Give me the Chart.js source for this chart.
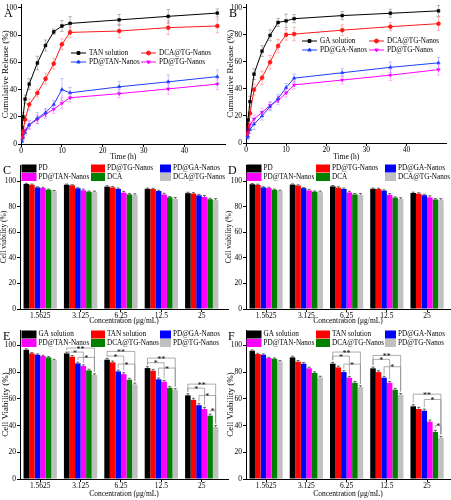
<!DOCTYPE html>
<html>
<head>
<meta charset="utf-8">
<script src="https://cdn.jsdelivr.net/npm/chart.js@4.4.1/dist/chart.umd.min.js"></script>
<style>
  html, body { margin: 0; padding: 0; background: #fff; }
  body { width: 451px; height: 500px; position: relative; overflow: hidden; }
  canvas { position: absolute; }
</style>
</head>
<body>
<canvas id="chartA"></canvas>
<canvas id="chartB"></canvas>
<canvas id="chartC"></canvas>
<canvas id="chartD"></canvas>
<canvas id="chartE"></canvas>
<canvas id="chartF"></canvas>
<script>
// ---- release data (A, B) ----
const releaseHours = [0.25, 0.5, 1, 2, 4, 6, 8, 10, 12, 24, 36, 48];
const releaseTicks = [0, 10, 20, 30, 40];

const tanSolution = [12, 20, 33, 44, 59.5, 72.4, 82.4, 86.7, 88.6, 91.2, 93.8, 96.2];
const tanSolutionErr = [2, 3, 3, 4, 5, 4, 2, 4, 5, 4, 5, 3];
const dcaTgReleaseA = [5, 9, 18, 29, 37.4, 48, 59, 73.3, 82, 83, 85.5, 86.7];
const dcaTgReleaseAErr = [1.5, 2, 3, 4, 3, 4, 4, 4, 4, 5, 5, 5];
const pdTanRelease = [2, 5, 8.5, 14, 19, 23, 29, 40, 37.6, 42, 45.7, 49.5];
const pdTanReleaseErr = [1, 2, 2, 3, 4, 3, 3, 8, 4, 4, 5, 5];
const pdTgReleaseA = [4, 7.5, 10, 14, 18, 22, 25.5, 30, 34, 37, 40.5, 44];
const pdTgReleaseAErr = [1, 2, 2, 3, 3, 3, 3, 4, 3, 3, 4, 4];

const gaSolution = [10, 17, 30.6, 51, 68, 79.7, 89.2, 90.4, 92, 94.3, 96, 97.8];
const gaSolutionErr = [2, 3, 4, 4, 4, 4, 3, 5, 3, 3, 3, 4];
const dcaTgReleaseB = [7, 11, 22, 39.5, 48.3, 59.8, 71.8, 80.1, 80.6, 83.5, 86.1, 88.3];
const dcaTgReleaseBErr = [2, 2, 3, 4, 5, 5, 5, 4, 5, 4, 3, 5];
const pdGaRelease = [4, 5, 10, 14, 20, 27, 33, 41, 48, 52, 56, 59.3];
const pdGaReleaseErr = [1, 2, 3, 4, 3, 3, 3, 3, 3, 3, 4, 4];
const pdTgReleaseB = [8, 9, 13.6, 17.7, 22.7, 27.7, 31.6, 37, 43, 46.6, 50.2, 54.3];
const pdTgReleaseBErr = [2, 2, 2, 3, 3, 3, 3, 3, 3, 3, 4, 4];

// ---- viability data (C-F) ----
const concLabels = ["1.5625", "3.125", "6.25", "12.5", "25"];
const viabTicks = [0, 20, 40, 60, 80, 100];

const viabC_pd = [97.7, 97.1, 95.6, 93.9, 90.5];
const viabC_pdTg = [97.1, 96.6, 95.0, 93.7, 90.2];
const viabC_pdGa = [95.0, 94.3, 93.8, 92.2, 88.8];
const viabC_pdTan = [94.5, 92.7, 90.9, 89.4, 87.5];
const viabC_dca = [93.2, 91.7, 89.6, 87.3, 85.8];
const viabC_dcaTg = [92.0, 91.2, 89.0, 86.1, 85.0];

const viabD_pd = [97.5, 97.2, 95.8, 93.9, 90.6];
const viabD_pdTg = [97.0, 96.5, 94.8, 93.7, 90.1];
const viabD_pdGa = [95.0, 94.4, 93.8, 92.5, 88.9];
const viabD_pdTan = [94.5, 92.6, 91.0, 89.2, 87.2];
const viabD_dca = [93.2, 91.7, 89.5, 87.0, 85.6];
const viabD_dcaTg = [92.2, 91.2, 89.2, 85.9, 85.0];

const viabE_gaSol = [96.8, 94.0, 89.3, 83.0, 62.6];
const viabE_tanSol = [94.0, 91.5, 87.3, 81.0, 59.2];
const viabE_pdGa = [93.0, 86.5, 80.5, 74.6, 55.2];
const viabE_pdTan = [92.0, 84.5, 78.5, 72.8, 52.4];
const viabE_dcaTg = [91.0, 81.3, 74.3, 68.3, 47.4];
const viabE_pdTg = [89.0, 77.8, 70.8, 66.6, 38.9];

const viabF_gaSol = [96.0, 91.0, 86.3, 82.8, 54.4];
const viabF_tanSol = [93.5, 87.8, 83.5, 80.0, 52.4];
const viabF_pdGa = [93.0, 86.3, 80.0, 75.8, 51.1];
const viabF_pdTan = [90.5, 82.8, 75.8, 72.0, 42.9];
const viabF_dcaTg = [90.0, 79.3, 72.0, 66.8, 35.2];
const viabF_pdTg = [88.0, 76.0, 68.8, 63.0, 30.7];

const errSmall = [0.5, 0.5, 0.7, 0.6, 0.7];
const errMid = [0.6, 0.9, 1.0, 1.0, 1.2];

// significance marks: [group, fromBar, toBar, level, label]
const sigE = [
  [1, 0, 3, 95, "*"], [1, 0, 5, 98, "**"], [1, 2, 5, 91, "*"],
  [2, 0, 3, 92, "*"], [2, 0, 5, 95.5, "**"], [2, 2, 5, 86, "*"],
  [3, 0, 3, 87, "*"], [3, 0, 5, 90.5, "**"], [3, 2, 5, 83, "*"],
  [4, 0, 3, 68, "*"], [4, 0, 5, 71, "**"], [4, 2, 5, 62.5, "*"], [4, 4, 5, 51, "*"],
];
const sigF = [
  [2, 0, 3, 92, "*"], [2, 0, 5, 95, "**"], [2, 2, 5, 86, "*"],
  [3, 0, 3, 89.5, "*"], [3, 0, 5, 92.5, "**"], [3, 2, 5, 84, "*"],
  [4, 0, 5, 63.5, "**"], [4, 2, 5, 59.5, "*"], [4, 4, 5, 40, "*"],
];

// ---- look ----
const serif = "'Liberation Serif', 'DejaVu Serif', serif";
const barColors = ["#000000", "#ff0000", "#0000ff", "#ff00ff", "#008000", "#c0c0c0"];

const panels = {
  A: { left: 0, top: 0, w: 230, h: 163, l: 21, t: 1, r: 228, b: 144 },
  B: { left: 225, top: 0, w: 226, h: 163, l: 21, t: 1, r: 225, b: 143 },
  C: { left: 0, top: 163, w: 230, h: 164, l: 20, t: 2, r: 228, b: 146 },
  D: { left: 225, top: 163, w: 226, h: 164, l: 21, t: 2, r: 225, b: 146 },
  E: { left: 0, top: 329, w: 230, h: 171, l: 20, t: 1, r: 228, b: 150 },
  F: { left: 225, top: 329, w: 226, h: 171, l: 21, t: 1, r: 225, b: 150 },
};

const errorBars = {
  id: "errorBars",
  afterDatasetsDraw(chart, args, o) {
    const ctx = chart.ctx;
    const ys = chart.scales.y;
    chart.data.datasets.forEach((ds, i) => {
      if (!ds.errors) return;
      const meta = chart.getDatasetMeta(i);
      ctx.save();
      ctx.strokeStyle = ds.errorColor || "#444";
      ctx.lineWidth = 0.8;
      meta.data.forEach((el, j) => {
        const v = ds.data[j].y;
        const e = ds.errors[j];
        const top = ys.getPixelForValue(v + e);
        const bot = o.upOnly ? ys.getPixelForValue(v) : ys.getPixelForValue(v - e);
        const c = o.cap || 1.8;
        ctx.beginPath();
        ctx.moveTo(el.x, top); ctx.lineTo(el.x, bot);
        ctx.moveTo(el.x - c, top); ctx.lineTo(el.x + c, top);
        if (!o.upOnly) { ctx.moveTo(el.x - c, bot); ctx.lineTo(el.x + c, bot); }
        ctx.stroke();
      });
      ctx.restore();
    });
  },
};

const sigBrackets = {
  id: "sigBrackets",
  afterDatasetsDraw(chart, args, o) {
    if (!o.marks) return;
    const ctx = chart.ctx;
    const ys = chart.scales.y;
    ctx.save();
    ctx.strokeStyle = "#8a8a8a";
    ctx.lineWidth = 0.7;
    ctx.fillStyle = "#000";
    ctx.font = `8px ${serif}`;
    ctx.textAlign = "center";
    ctx.textBaseline = "alphabetic";
    o.marks.forEach(([g, a, b, level, label]) => {
      const dsA = chart.data.datasets[a], dsB = chart.data.datasets[b];
      const xa = chart.getDatasetMeta(a).data[g].x;
      const xb = chart.getDatasetMeta(b).data[g].x;
      const yl = ys.getPixelForValue(level);
      const ya = Math.max(yl, ys.getPixelForValue(dsA.data[g].y + dsA.errors[g] + 1.5));
      const yb = Math.max(yl, ys.getPixelForValue(dsB.data[g].y + dsB.errors[g] + 1.5));
      ctx.beginPath();
      ctx.moveTo(xa, ya); ctx.lineTo(xa, yl); ctx.lineTo(xb, yl); ctx.lineTo(xb, yb);
      ctx.stroke();
      ctx.fillText(label, (xa + xb) / 2, yl + 3.5);
    });
    ctx.restore();
  },
};

const panelDecor = {
  id: "panelDecor",
  afterDraw(chart, args, o) {
    const ctx = chart.ctx;
    ctx.save();
    ctx.fillStyle = "#000";
    ctx.font = `12px ${serif}`;
    ctx.textAlign = "left";
    ctx.textBaseline = "middle";
    ctx.fillText(o.letter, o.letterX, o.letterY);
    ctx.font = `7.2px ${serif}`;
    const ncol = o.cols.length;
    chart.data.datasets.forEach((ds, i) => {
      const cx = o.cols[i % ncol];
      const cy = o.rows[Math.floor(i / ncol)];
      if (o.kind === "line") {
        ctx.strokeStyle = ds.borderColor;
        ctx.lineWidth = 1;
        ctx.beginPath(); ctx.moveTo(cx, cy); ctx.lineTo(cx + 15, cy); ctx.stroke();
        ctx.fillStyle = ds.borderColor;
        Chart.helpers.drawPoint(ctx, {
          pointStyle: ds.pointStyle, rotation: ds.pointRotation || 0, radius: 2, borderWidth: 0.5,
        }, cx + 7.5, cy);
        ctx.fillStyle = "#000";
        ctx.fillText(ds.label, cx + 18, cy);
      } else {
        const sw = o.swatchW[i % ncol];
        ctx.fillStyle = ds.backgroundColor;
        ctx.fillRect(cx, cy - 4, sw, 8);
        ctx.fillStyle = "#000";
        ctx.fillText(ds.label, cx + sw + 2, cy);
      }
    });
    ctx.restore();
  },
};

function placeCanvas(id, p) {
  const c = document.getElementById(id);
  c.width = p.w; c.height = p.h;
  c.style.left = p.left + "px"; c.style.top = p.top + "px";
  c.style.width = p.w + "px"; c.style.height = p.h + "px";
  return c;
}

function axis(p, isY, title, titleSize, min, max, tickValues, labelFn) {
  return {
    type: "linear",
    min, max,
    offset: false,
    border: { display: true, color: "#000", width: 1 },
    grid: { display: true, offset: false, drawOnChartArea: false, drawTicks: true, tickLength: 3, color: "#000", lineWidth: 1 },
    ticks: {
      color: "#000", font: { family: serif, size: 7.5 }, padding: isY ? 1 : 0, maxRotation: 0, autoSkip: false,
      callback: labelFn || ((v) => v),
    },
    title: {
      display: true, text: title, color: "#000",
      font: { family: serif, size: titleSize }, padding: { top: 0, bottom: isY ? 0 : 1 },
    },
    afterBuildTicks: (s) => { s.ticks = tickValues.map((v) => ({ value: v })); },
    afterFit: (s) => {
      if (isY) { s.width = p.l; s.paddingTop = 0; s.paddingBottom = 0; }
      else { s.height = p.h - p.b; s.paddingLeft = 0; s.paddingRight = 0; }
    },
  };
}

function lineSet(label, vals, errs, color, errColor, style, rot) {
  return {
    label,
    data: releaseHours.map((h, i) => ({ x: h, y: vals[i] })),
    errors: errs, errorColor: errColor,
    borderColor: color, backgroundColor: color, borderWidth: 1,
    pointStyle: style, pointRotation: rot || 0, pointRadius: 2, pointBorderWidth: 0.5,
    tension: 0,
  };
}

function barSet(label, vals, errs, k) {
  return {
    label,
    data: vals.map((v, i) => ({ x: i + 1, y: v })),
    errors: errs,
    backgroundColor: barColors[k], borderWidth: 0,
    categoryPercentage: 0.825, barPercentage: 1,
  };
}

function releaseChart(id, key, letter, datasets, legendCols, legendRows) {
  const p = panels[key];
  const c = placeCanvas(id, p);
  return new Chart(c, {
    type: "line",
    data: { datasets },
    options: {
      responsive: false, animation: false, devicePixelRatio: 1,
      layout: { padding: { left: 0, top: p.t, right: p.w - p.r, bottom: 0 } },
      plugins: {
        legend: { display: false }, tooltip: { enabled: false },
        errorBars: { upOnly: false, cap: 1.8 },
        panelDecor: { kind: "line", letter, letterX: 4, letterY: 14, cols: legendCols, rows: legendRows },
      },
      scales: {
        x: axis(p, false, "Time (h)", 7.5, 0, 50, releaseTicks),
        y: axis(p, true, "Cumulative Release (%)", 9, 0, 102.5, viabTicks),
      },
    },
    plugins: [errorBars, panelDecor],
  });
}

function viabChart(id, key, letter, yTitle, yTitleSize, ymax, xmax, datasets, marks) {
  const p = panels[key];
  const c = placeCanvas(id, p);
  return new Chart(c, {
    type: "bar",
    data: { datasets },
    options: {
      responsive: false, animation: false, devicePixelRatio: 1,
      layout: { padding: { left: 0, top: p.t, right: p.w - p.r, bottom: 0 } },
      plugins: {
        legend: { display: false }, tooltip: { enabled: false },
        errorBars: { upOnly: true, cap: 1.5 },
        sigBrackets: { marks },
        panelDecor: {
          kind: "bar", letter, letterX: 3, letterY: 8,
          cols: [21.5, 91, 160], swatchW: [15, 14, 11], rows: [5.5, 14],
        },
      },
      scales: {
        x: axis(p, false, "Concentration (\u03bcg/mL)", 7.5, 0.5, xmax, [1, 2, 3, 4, 5],
          (v) => concLabels[Math.round(v) - 1]),
        y: axis(p, true, yTitle, yTitleSize, 0, ymax, viabTicks),
      },
    },
    plugins: [errorBars, sigBrackets, panelDecor],
  });
}

releaseChart("chartA", "A", "A", [
  lineSet("TAN solution", tanSolution, tanSolutionErr, "#000000", "rgba(0,0,0,0.35)", "rect"),
  lineSet("DCA@TG-Nanos", dcaTgReleaseA, dcaTgReleaseAErr, "#ff1a1a", "rgba(255,0,0,0.35)", "circle"),
  lineSet("PD@TAN-Nanos", pdTanRelease, pdTanReleaseErr, "#1f3fff", "rgba(31,63,255,0.35)", "triangle"),
  lineSet("PD@TG-Nanos", pdTgReleaseA, pdTgReleaseAErr, "#ff00ff", "rgba(255,0,255,0.35)", "triangle", 180),
], [71, 141], [53, 62]);

releaseChart("chartB", "B", "B", [
  lineSet("GA solution", gaSolution, gaSolutionErr, "#000000", "rgba(0,0,0,0.35)", "rect"),
  lineSet("DCA@TG-Nanos", dcaTgReleaseB, dcaTgReleaseBErr, "#ff1a1a", "rgba(255,0,0,0.35)", "circle"),
  lineSet("PD@GA-Nanos", pdGaRelease, pdGaReleaseErr, "#1f3fff", "rgba(31,63,255,0.35)", "triangle"),
  lineSet("PD@TG-Nanos", pdTgReleaseB, pdTgReleaseBErr, "#ff00ff", "rgba(255,0,255,0.35)", "triangle", 180),
], [77, 144], [41, 50]);

viabChart("chartC", "C", "C", "Cell viability (%)", 7.5, 112.5, 5.65, [
  barSet("PD", viabC_pd, errSmall, 0),
  barSet("PD@TG-Nanos", viabC_pdTg, errSmall, 1),
  barSet("PD@GA-Nanos", viabC_pdGa, errSmall, 2),
  barSet("PD@TAN-Nanos", viabC_pdTan, errMid, 3),
  barSet("DCA", viabC_dca, errSmall, 4),
  barSet("DCA@TG-Nanos", viabC_dcaTg, errMid, 5),
], null);

viabChart("chartD", "D", "D", "Cell viability (%)", 7.5, 112.5, 5.57, [
  barSet("PD", viabD_pd, errSmall, 0),
  barSet("PD@TG-Nanos", viabD_pdTg, errSmall, 1),
  barSet("PD@GA-Nanos", viabD_pdGa, errSmall, 2),
  barSet("PD@TAN-Nanos", viabD_pdTan, errMid, 3),
  barSet("DCA", viabD_dca, errSmall, 4),
  barSet("DCA@TG-Nanos", viabD_dcaTg, errMid, 5),
], null);

viabChart("chartE", "E", "E", "Cell Viability (%)", 9, 111.5, 5.65, [
  barSet("GA solution", viabE_gaSol, errMid, 0),
  barSet("TAN solution", viabE_tanSol, errMid, 1),
  barSet("PD@GA-Nanos", viabE_pdGa, errMid, 2),
  barSet("PD@TAN-Nanos", viabE_pdTan, errMid, 3),
  barSet("DCA@TG-Nanos", viabE_dcaTg, errMid, 4),
  barSet("PD@TG-Nanos", viabE_pdTg, errMid, 5),
], sigE);

viabChart("chartF", "F", "F", "Cell Viability (%)", 9, 111.5, 5.57, [
  barSet("GA solution", viabF_gaSol, errMid, 0),
  barSet("TAN solution", viabF_tanSol, errMid, 1),
  barSet("PD@GA-Nanos", viabF_pdGa, errMid, 2),
  barSet("PD@TAN-Nanos", viabF_pdTan, errMid, 3),
  barSet("DCA@TG-Nanos", viabF_dcaTg, errMid, 4),
  barSet("PD@TG-Nanos", viabF_pdTg, errMid, 5),
], sigF);
</script>
</body>
</html>
